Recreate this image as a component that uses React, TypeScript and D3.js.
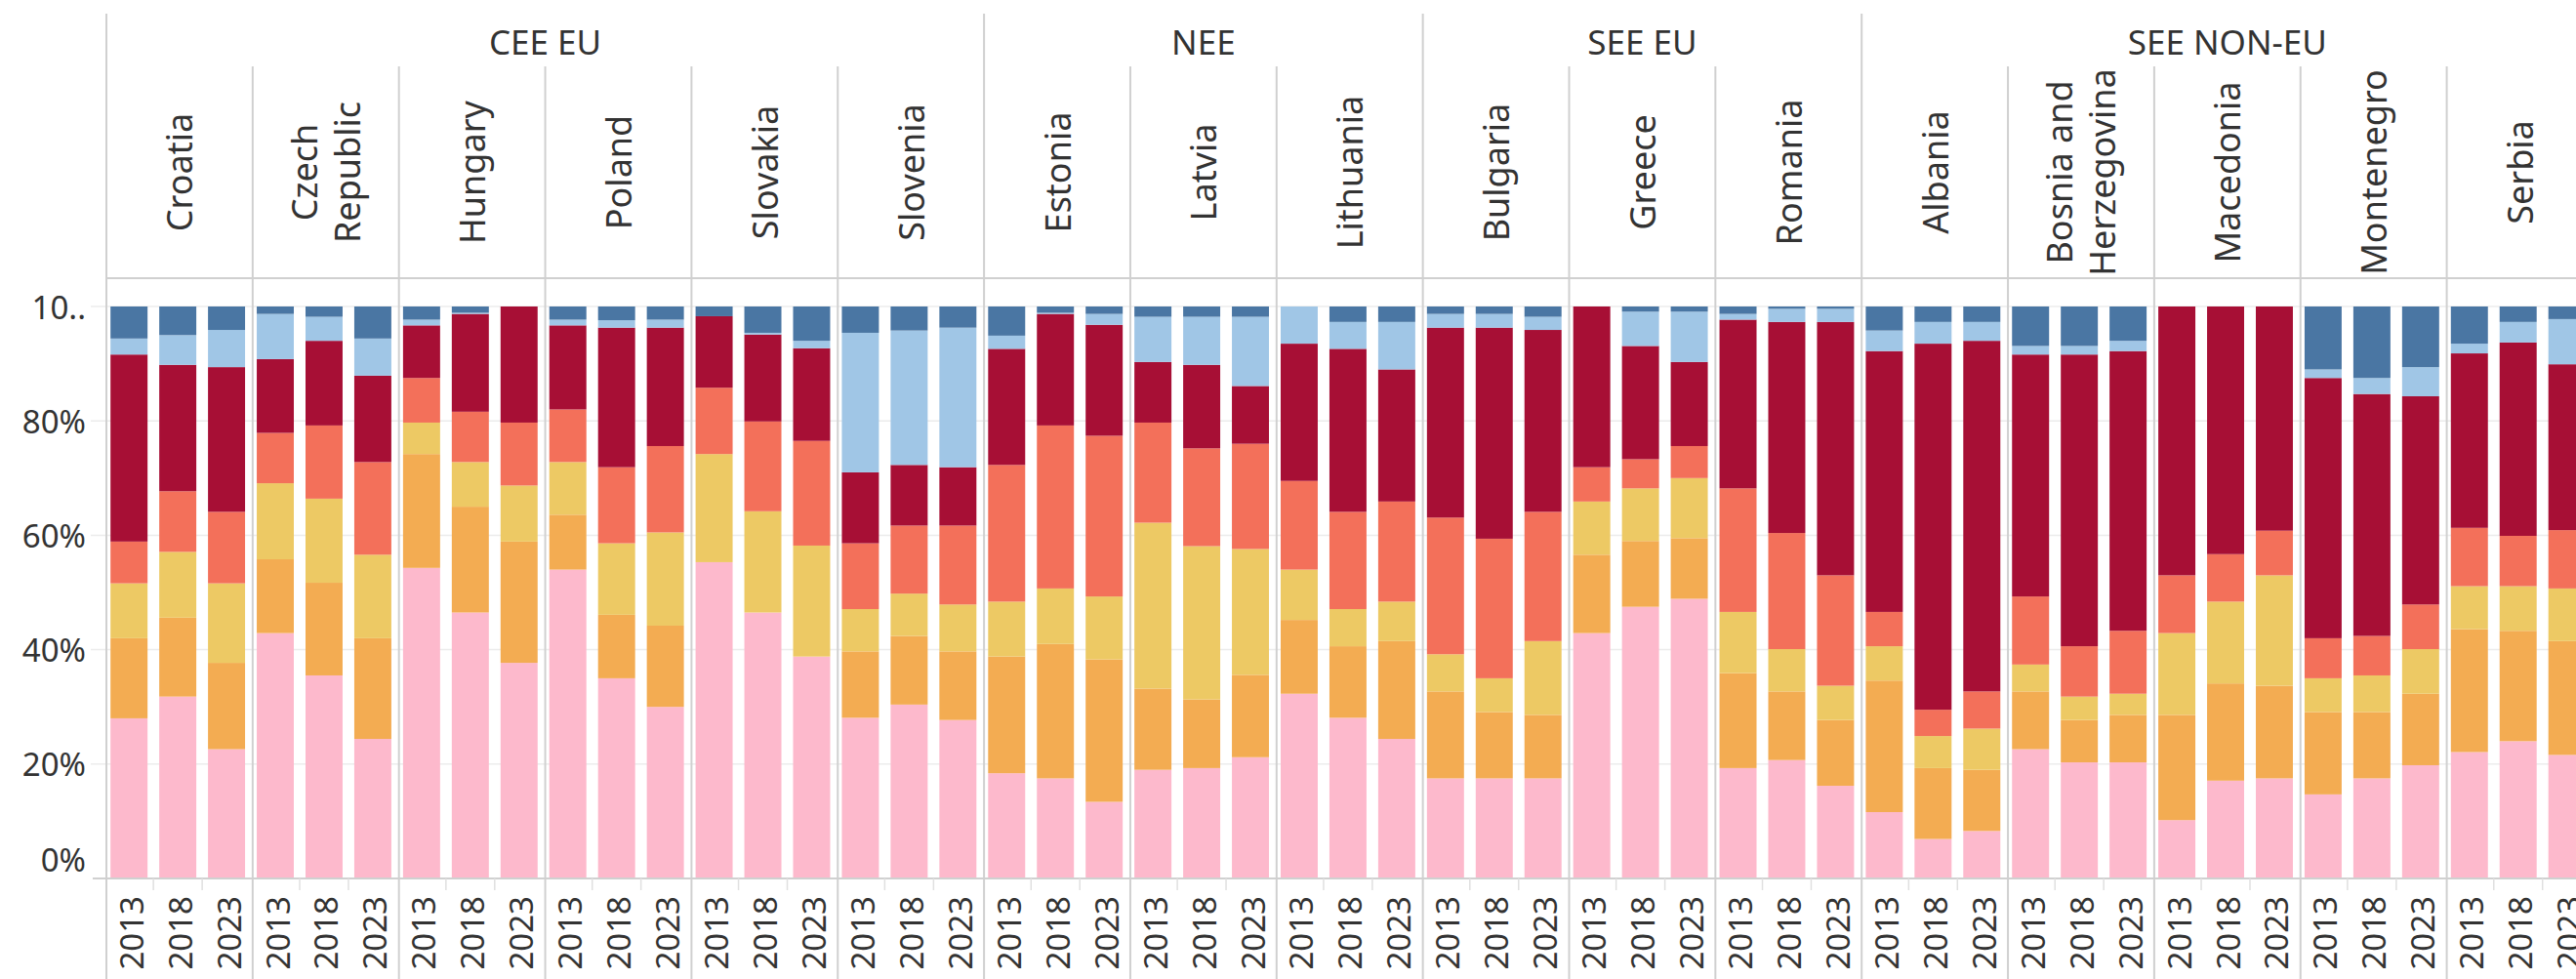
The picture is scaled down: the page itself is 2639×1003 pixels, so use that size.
import React, { useEffect } from "react";
import * as d3 from "d3";

// ---------- DATA ----------
const groups = ["CEE EU", "NEE", "SEE EU", "SEE NON-EU"];
const countries = [
  "Croatia", "Czech Republic", "Hungary", "Poland", "Slovakia", "Slovenia",
  "Estonia", "Latvia", "Lithuania",
  "Bulgaria", "Greece", "Romania",
  "Albania", "Bosnia and Herzegovina", "Macedonia", "Montenegro", "Serbia",
];
const countryGroup = [
  "CEE EU", "CEE EU", "CEE EU", "CEE EU", "CEE EU", "CEE EU",
  "NEE", "NEE", "NEE",
  "SEE EU", "SEE EU", "SEE EU",
  "SEE NON-EU", "SEE NON-EU", "SEE NON-EU", "SEE NON-EU", "SEE NON-EU",
];
const countryLabelLines: Record<string, string[]> = {
  "Czech Republic": ["Czech", "Republic"],
  "Bosnia and Herzegovina": ["Bosnia and", "Herzegovina"],
};
const years = ["2013", "2018", "2023"];
const yTicks = [0, 0.2, 0.4, 0.6, 0.8, 1];
const yTickLabels = ["0%", "20%", "40%", "60%", "80%", "10.."];

// values per series, ordered country by country, 2013/2018/2023
const cat1 = [
  28.0, 31.8, 22.6, 42.9, 35.5, 24.4, 54.3, 46.5, 37.7, 54.0, 35.0, 30.0,
  55.3, 46.5, 38.8, 28.1, 30.4, 27.7, 18.4, 17.5, 13.4, 19.0, 19.3, 21.2,
  32.3, 28.1, 24.4, 17.5, 17.5, 17.5, 42.9, 47.5, 48.9, 19.3, 20.7, 16.2,
  11.6, 6.9, 8.3, 22.6, 20.3, 20.3, 10.2, 17.1, 17.5, 14.7, 17.5, 19.8,
  22.1, 24.0, 21.6,
];
const cat2 = [
  14.0, 13.8, 15.1, 12.9, 16.2, 17.6, 19.9, 18.5, 21.2, 9.6, 11.1, 14.2,
  0, 0, 0, 11.6, 12.0, 12.0, 20.4, 23.5, 24.9, 14.2, 12.0, 14.4,
  12.9, 12.5, 17.1, 15.2, 11.6, 11.1, 13.7, 11.5, 10.6, 16.6, 12.0, 11.5,
  23.0, 12.4, 10.7, 10.1, 7.4, 8.3, 18.4, 17.0, 16.2, 14.4, 11.6, 12.5,
  21.5, 19.3, 19.9,
];
const cat3 = [
  9.6, 11.5, 13.9, 13.3, 14.7, 14.6, 5.5, 7.8, 9.8, 9.2, 12.5, 16.3,
  18.9, 17.7, 19.4, 7.4, 7.4, 8.2, 9.6, 9.7, 11.0, 29.0, 26.8, 22.0,
  8.8, 6.5, 6.9, 6.5, 5.9, 12.9, 9.3, 9.2, 10.5, 10.7, 7.4, 6.0,
  6.0, 5.6, 7.2, 4.7, 4.1, 3.7, 14.3, 14.3, 19.3, 5.9, 6.4, 7.8,
  7.5, 7.8, 9.2,
];
const cat4 = [
  7.3, 10.6, 12.5, 8.8, 12.8, 16.2, 7.8, 8.8, 11.0, 9.2, 13.3, 15.1,
  11.6, 15.7, 18.3, 11.5, 11.9, 13.8, 23.9, 28.5, 28.1, 17.5, 17.1, 18.4,
  15.5, 17.0, 17.5, 23.9, 24.4, 22.6, 6.0, 5.1, 5.6, 21.6, 20.3, 19.3,
  6.0, 4.6, 6.5, 11.9, 8.8, 11.0, 10.1, 8.3, 7.8, 7.0, 6.9, 7.8,
  10.2, 8.8, 10.2,
];
const cat5 = [
  32.7, 22.1, 25.3, 12.9, 14.8, 15.1, 9.2, 17.1, 20.3, 14.7, 24.4, 20.7,
  12.5, 15.2, 16.2, 12.4, 10.6, 10.2, 20.3, 19.5, 19.4, 10.6, 14.6, 10.1,
  24.0, 28.5, 23.1, 33.2, 36.9, 31.8, 28.1, 19.8, 14.7, 29.5, 36.9, 44.3,
  45.6, 64.0, 61.3, 42.3, 51.0, 48.9, 47.0, 43.3, 39.2, 45.5, 42.3, 36.4,
  30.5, 33.8, 29.0,
];
const cat6 = [
  2.8, 5.2, 6.5, 7.9, 4.2, 6.5, 1.0, 0.2, 0, 1.0, 1.3, 1.4,
  0, 0.3, 1.3, 24.4, 23.5, 24.4, 2.3, 0.2, 1.9, 7.9, 8.4, 12.1,
  6.5, 4.7, 8.3, 2.4, 2.4, 2.3, 0, 6.0, 8.8, 1.0, 2.3, 2.3,
  3.6, 3.8, 3.3, 1.5, 1.5, 1.8, 0, 0, 0, 1.5, 2.8, 5.1,
  1.7, 3.6, 7.9,
];
const cat7 = [
  5.6, 5.0, 4.1, 1.3, 1.8, 5.6, 2.3, 1.1, 0, 2.3, 2.4, 2.3,
  1.7, 4.6, 6.0, 4.6, 4.2, 3.7, 5.1, 1.1, 1.3, 1.8, 1.8, 1.8,
  0, 2.7, 2.7, 1.3, 1.3, 1.8, 0, 0.9, 0.9, 1.3, 0.4, 0.4,
  4.2, 2.7, 2.7, 6.9, 6.9, 6.0, 0, 0, 0, 11.0, 12.5, 10.6,
  6.5, 2.7, 2.2,
];
const seriesKeys = ["cat1", "cat2", "cat3", "cat4", "cat5", "cat6", "cat7"];
const seriesValues = [cat1, cat2, cat3, cat4, cat5, cat6, cat7];
const seriesColors = ["#FDB9CC", "#F3AC52", "#EDC964", "#F3705A", "#A70F35", "#A0C6E6", "#4A76A3"];

// ---------- LAYOUT ----------
const W = 2639;
const H = 1003;
const LEFT = 109;
const COL_W = 149.85;
const TOP = 14;
const COUNTRY_TOP = 68;
const HEADER_BOTTOM = 285;
const Y0 = 900;
const Y1 = 314;
const FONT = "'Noto Sans', 'DejaVu Sans', sans-serif";
const TEXT = "#333333";
const LINE = "#d0d0d0";

export default function App() {
  useEffect(() => {
    document.body.style.margin = "0";
  }, []);

  const rows = countries.flatMap((c, ci) =>
    years.map((yr, yi) => {
      const r: any = { country: c, year: yr };
      seriesKeys.forEach((k, si) => (r[k] = seriesValues[si][ci * 3 + yi]));
      return r;
    })
  );
  const stacked = d3.stack<any>().keys(seriesKeys).offset(d3.stackOffsetExpand)(rows);

  const xCountry = d3.scaleBand<string>().domain(countries).range([LEFT, LEFT + COL_W * countries.length]).padding(0);
  const xYear = d3.scaleBand<string>().domain(years).range([0, COL_W]).paddingInner(0.24).paddingOuter(0.12).align(0.35);
  const y = d3.scaleLinear().domain([0, 1]).range([Y0, Y1]);

  const groupExtents = groups.map((g) => {
    const cs = countries.filter((_, i) => countryGroup[i] === g);
    const x0 = xCountry(cs[0])!;
    const x1 = xCountry(cs[cs.length - 1])! + xCountry.bandwidth();
    return { g, x0, x1 };
  });

  const gapHalf = (xYear.step() * xYear.paddingInner()) / 2;

  return (
    <svg width={W} height={H} style={{ position: "absolute", left: 0, top: 0, background: "#fff" }} fontFamily={FONT}>
      <rect x={0} y={0} width={W} height={H} fill="#fff" />
      {/* gridlines */}
      {yTicks.slice(1).map((t) => (
        <line key={"g" + t} x1={93} x2={W} y1={y(t)} y2={y(t)} stroke="#ececec" strokeWidth={1.5} />
      ))}
      {/* bars */}
      {stacked.map((s, si) => (
        <g key={s.key} fill={seriesColors[si]}>
          {s.map((d, i) => {
            const r = rows[i];
            const x = xCountry(r.country)! + xYear(r.year)!;
            const h = y(d[0]) - y(d[1]);
            if (h <= 0.01) return null;
            return <rect key={i} x={x} y={y(d[1])} width={xYear.bandwidth()} height={h} />;
          })}
        </g>
      ))}
      {/* axis line */}
      <line x1={95} x2={W} y1={Y0} y2={Y0} stroke={LINE} strokeWidth={2} />
      {/* year tick separators */}
      {countries.map((c) =>
        years.slice(1).map((yr) => {
          const x = xCountry(c)! + xYear(yr)! - gapHalf;
          return <line key={c + yr} x1={x} x2={x} y1={Y0} y2={Y0 + 12} stroke="#e0e0e0" strokeWidth={1.5} />;
        })
      )}
      {/* header bottom line */}
      <line x1={LEFT} x2={W} y1={HEADER_BOTTOM} y2={HEADER_BOTTOM} stroke={LINE} strokeWidth={2} />
      {/* country dividers */}
      {countries.map((c, i) => {
        const x = xCountry(c)!;
        const isGroupStart = i === 0 || countryGroup[i] !== countryGroup[i - 1];
        return (
          <line key={"d" + c} x1={x} x2={x} y1={isGroupStart ? TOP : COUNTRY_TOP} y2={H} stroke={LINE} strokeWidth={2} />
        );
      })}
      {/* group labels */}
      {groupExtents.map(({ g, x0, x1 }) => (
        <text key={g} x={(x0 + x1) / 2} y={42} textAnchor="middle" dominantBaseline="central" fontSize={35} fill={TEXT}>
          {g}
        </text>
      ))}
      {/* country labels */}
      {countries.map((c) => {
        const cx = xCountry(c)! + xCountry.bandwidth() / 2;
        const cy = (COUNTRY_TOP + HEADER_BOTTOM) / 2;
        const lines = countryLabelLines[c] || [c];
        const lh = 44;
        return (
          <text key={"l" + c} transform={`translate(${cx},${cy}) rotate(-90)`} textAnchor="middle" fontSize={36} fill={TEXT}>
            {lines.map((ln, li) => (
              <tspan key={li} x={0} y={(li - (lines.length - 1) / 2) * lh} dominantBaseline="central">
                {ln}
              </tspan>
            ))}
          </text>
        );
      })}
      {/* year labels */}
      {rows.map((r, i) => {
        const cx = xCountry(r.country)! + xYear(r.year)! + xYear.bandwidth() / 2 + 2;
        return (
          <text key={"y" + i} transform={`translate(${cx},${918}) rotate(-90)`} textAnchor="end" dominantBaseline="central" fontSize={33} fill={TEXT}>
            {r.year}
          </text>
        );
      })}
      {/* y axis labels */}
      {yTicks.map((t, i) => (
        <text key={"t" + t} x={88} y={t === 0 ? 880 : y(t)} textAnchor="end" dominantBaseline="central" fontSize={33} fill={TEXT}>
          {yTickLabels[i]}
        </text>
      ))}
    </svg>
  );
}
